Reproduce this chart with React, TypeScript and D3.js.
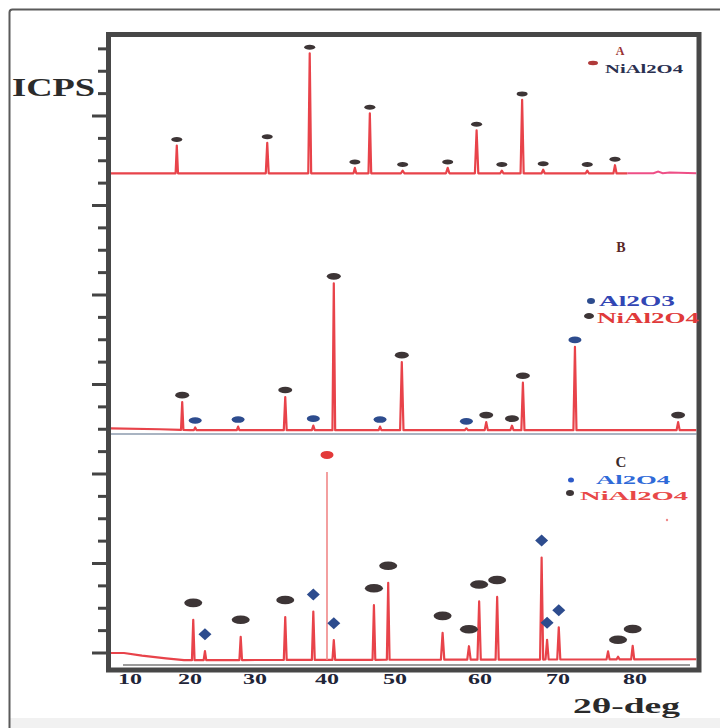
import React from "react";
import * as d3 from "d3";

// ---------------- data ----------------
const xTicks = [10, 20, 30, 40, 50, 60, 70, 80];
const yTickMax = 6.75;
const yTickStep = 0.25;

const panelNames = ["A", "B", "C"];
// vertical offset of each pattern's baseline (intensity units)
const panelOffsets = [5.36, 2.49, -0.08];

// background level nodes [2θ, level]
const baseA: [number, number][] = [[6.5, 0], [79, 0]];
const tailA: [number, number][] = [[79, 0], [82.4, 0], [83.0, 0.02], [83.6, 0], [84.5, 0.01], [88, 0]];
const baseB: [number, number][] = [[6.5, 0.02], [15, 0.01], [20, 0], [88, 0]];
const baseC: [number, number][] = [[6.5, 0.08], [9, 0.08], [12, 0.05], [16, 0.02], [19, 0], [88, 0.01]];

// peaks: [2θ, intensity, phase marker]  n = NiAl2O4, a = Al2O3/Al2O4, r = main reflection
const peaksA: [number, number, string][] = [
  [17.8, 0.31, "n"], [31.7, 0.34, "n"], [37.6, 1.34, "n"], [44.1, 0.06, "n"],
  [46.3, 0.67, "n"], [50.9, 0.03, "n"], [56.2, 0.06, "n"], [59.6, 0.48, "n"],
  [62.8, 0.03, "n"], [65.4, 0.82, "n"], [68.1, 0.04, "n"], [73.8, 0.03, "n"],
  [77.4, 0.09, "n"],
];
const peaksB: [number, number, string][] = [
  [18.7, 0.31, "n"], [20.8, 0.03, "a"], [27.4, 0.04, "a"], [34.2, 0.37, "n"],
  [38.1, 0.05, "a"], [41.0, 1.64, "n"], [47.8, 0.04, "a"], [50.8, 0.76, "n"],
  [58.4, 0.02, "a"], [60.8, 0.09, "n"], [64.1, 0.05, "n"], [65.5, 0.53, "n"],
  [72.2, 0.93, "a"], [85.6, 0.09, "n"],
];
const peaksC: [number, number, string][] = [
  [20.5, 0.45, "n"], [22.3, 0.1, "a"], [27.8, 0.26, "n"], [34.2, 0.48, "n"],
  [38.1, 0.54, "a"], [40.0, 2.1, "r"], [41.0, 0.22, "a"], [46.9, 0.61, "n"],
  [49.0, 0.86, "n"], [55.6, 0.3, "n"], [58.7, 0.15, "n"], [59.9, 0.65, "n"],
  [62.2, 0.7, "n"], [67.9, 1.14, "a"], [68.6, 0.22, "a"], [70.1, 0.36, "a"],
  [76.5, 0.09, ""], [77.8, 0.03, "n"], [79.7, 0.15, "n"],
];

const legendA = ["NiAl2O4"];
const legendB = ["Al2O3", "NiAl2O4"];
const legendC = ["Al2O4", "NiAl2O4"];

// ---------------- layout ----------------
const W = 720;
const H = 728;
const box = { x: 108.5, y: 34.5, w: 590.5, h: 635.5 };
const xPix = [130, 190, 255, 327, 395, 480, 558, 635];

const x = d3.scaleLinear().domain(xTicks).range(xPix);
const y = d3.scaleLinear().domain([0, 6]).range([653, 116]);

const RED = "#e8434a";
const DARK = "#3d3536";
const BLUE = "#2d4c8e";
const serif = "'Liberation Serif', 'DejaVu Serif', serif";

function buildPoints(base: [number, number][], peaks: [number, number, string][], hw: number) {
  const bs = d3.scaleLinear().domain(base.map((d) => d[0])).range(base.map((d) => d[1]));
  const pts: [number, number][] = base.map((d) => [d[0], d[1]]);
  peaks.forEach(([t, h]) => {
    const b = bs(t);
    pts.push([t - hw, b], [t, b + h], [t + hw, b]);
  });
  pts.sort((a, b) => a[0] - b[0]);
  return { pts, bs };
}

function Panel({ idx, base, peaks, gap, sizes }: any) {
  const off = panelOffsets[idx];
  const main = peaks.filter((p: any) => p[2] !== "r");
  const { pts, bs } = buildPoints(base, main, 0.2);
  const line = d3
    .line<[number, number]>()
    .x((d) => x(d[0]))
    .y((d) => y(off + d[1]));
  return (
    <g>
      <path d={line(pts) || ""} fill="none" stroke={RED} strokeWidth={2.2} strokeLinejoin="round" />
      {peaks
        .filter((p: any) => p[2] === "r")
        .map((p: any, i: number) => (
          <line key={"r" + i} x1={x(p[0])} x2={x(p[0])} y1={y(off + bs(p[0]))} y2={y(off + bs(p[0]) + p[1])} stroke="#f08888" strokeWidth={1.6} />
        ))}
      {peaks
        .filter((p: any) => p[2] !== "")
        .map((p: any, i: number) => {
          const cx = x(p[0]);
          const cy = y(off + bs(p[0]) + p[1]) - gap;
          if (p[2] === "n") return <ellipse key={i} cx={cx} cy={cy} rx={sizes.n[0]} ry={sizes.n[1]} fill={DARK} />;
          if (p[2] === "r") return <ellipse key={i} cx={cx} cy={cy} rx={6.5} ry={4} fill="#e33a3a" />;
          if (sizes.diamond)
            return (
              <path key={i} d={`M${cx},${cy - 6} L${cx + 6.5},${cy} L${cx},${cy + 6} L${cx - 6.5},${cy} Z`} fill={BLUE} />
            );
          return <ellipse key={i} cx={cx} cy={cy} rx={sizes.a[0]} ry={sizes.a[1]} fill={BLUE} />;
        })}
    </g>
  );
}

export default function App() {
  const yTicks = d3.range(0, yTickMax + 0.001, yTickStep);
  const tailLine = d3
    .line<[number, number]>()
    .x((d) => x(d[0]))
    .y((d) => y(panelOffsets[0] + d[1]));
  return (
    <svg width={W} height={H} style={{ position: "absolute", left: 0, top: 0, display: "block" }}>
      <rect x={0} y={0} width={W} height={H} fill="#fff" />
      <rect x={10} y={718} width={W} height={12} fill="#f1f1f1" />
      <rect x={9.5} y={9.5} width={716} height={730} rx={3} fill="none" stroke="#5a5a5a" strokeWidth={2} />

      <defs>
        <clipPath id="plotclip">
          <rect x={box.x + 2.5} y={box.y + 2.5} width={box.w - 5} height={box.h - 5} />
        </clipPath>
      </defs>

      <g clipPath="url(#plotclip)">
        {/* separators */}
        <line x1={box.x} x2={box.x + box.w} y1={434} y2={434} stroke="#a9b4c2" strokeWidth={2} />
        <line x1={123} x2={690} y1={665} y2={665} stroke="#7a7a7a" strokeWidth={1.5} />

        <Panel idx={0} base={baseA} peaks={peaksA} gap={6} sizes={{ n: [5.5, 2.5], a: [5.5, 2.5] }} />
        <path d={tailLine(tailA) || ""} fill="none" stroke="#ee4f86" strokeWidth={2} />
        <Panel idx={1} base={baseB} peaks={peaksB} gap={7} sizes={{ n: [7, 3.3], a: [6.5, 3.3] }} />
        <Panel idx={2} base={baseC} peaks={peaksC} gap={17} sizes={{ n: [9, 4.3], a: [6, 4], diamond: true }} />
      </g>

      {/* y ticks */}
      {yTicks.map((t, i) => {
        const major = Math.abs(t - Math.round(t)) < 1e-6;
        return (
          <line key={i} x1={major ? 92 : 98} x2={108} y1={y(t)} y2={y(t)} stroke="#444" strokeWidth={3} />
        );
      })}

      {/* frame */}
      <rect x={box.x} y={box.y} width={box.w} height={box.h} fill="none" stroke="#474747" strokeWidth={5} />

      {/* x tick labels */}
      {xTicks.map((t) => (
        <text key={t} x={x(t)} y={684} textAnchor="middle" fontFamily={serif} fontWeight="bold" fontSize={15} fill="#1f2538" textLength={24} lengthAdjust="spacingAndGlyphs">
          {t}
        </text>
      ))}

      <text x={12} y={96} fontFamily={serif} fontWeight="bold" fontSize={25} fill="#2b2b2b" textLength={83} lengthAdjust="spacingAndGlyphs">
        ICPS
      </text>
      <text x={573} y={713} fontFamily={serif} fontWeight="bold" fontSize={22} fill="#2a2a2a" textLength={107} lengthAdjust="spacingAndGlyphs">
        2θ-deg
      </text>

      {/* panel A legend */}
      <text x={620} y={55} textAnchor="middle" fontFamily={serif} fontWeight="bold" fontSize={12} fill="#9a3232">
        {panelNames[0]}
      </text>
      <ellipse cx={593} cy={63} rx={5} ry={2.2} fill="#b03a3a" />
      <text x={605} y={73} fontFamily={serif} fontWeight="bold" fontSize={12} fill="#2a3050" textLength={78} lengthAdjust="spacingAndGlyphs">
        {legendA[0]}
      </text>

      {/* panel B legend */}
      <text x={621} y={252} textAnchor="middle" fontFamily={serif} fontWeight="bold" fontSize={14} fill="#5a2626">
        {panelNames[1]}
      </text>
      <ellipse cx={591} cy={301} rx={4} ry={3} fill={BLUE} />
      <text x={599} y={306} fontFamily={serif} fontWeight="bold" fontSize={14} fill="#3246b4" textLength={76} lengthAdjust="spacingAndGlyphs">
        {legendB[0]}
      </text>
      <ellipse cx={589} cy={316} rx={5} ry={3} fill={DARK} />
      <text x={597} y={323} fontFamily={serif} fontWeight="bold" fontSize={14} fill="#e03a3a" textLength={102} lengthAdjust="spacingAndGlyphs">
        {legendB[1]}
      </text>

      {/* panel C legend */}
      <text x={621} y={467} textAnchor="middle" fontFamily={serif} fontWeight="bold" fontSize={15} fill="#3a2a2a">
        {panelNames[2]}
      </text>
      <ellipse cx={571} cy={480} rx={3} ry={2.5} fill="#2d5ac8" />
      <text x={596} y={484} fontFamily={serif} fontWeight="bold" fontSize={13} fill="#2f6ad8" textLength={74} lengthAdjust="spacingAndGlyphs">
        {legendC[0]}
      </text>
      <ellipse cx={570} cy={493} rx={4} ry={3} fill={DARK} />
      <text x={580} y={500} fontFamily={serif} fontWeight="bold" fontSize={13} fill="#e84848" textLength={108} lengthAdjust="spacingAndGlyphs">
        {legendC[1]}
      </text>
      <circle cx={667} cy={520} r={1.2} fill="#f08a8a" />
    </svg>
  );
}
